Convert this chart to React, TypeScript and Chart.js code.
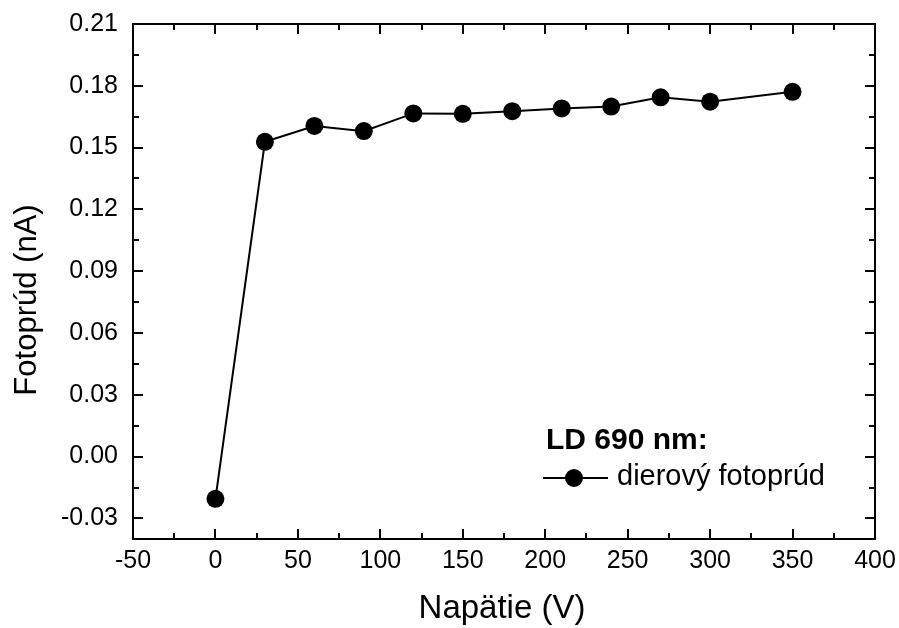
import React, { useEffect, useRef } from "react";
import { Chart, registerables } from "chart.js";

Chart.register(...registerables);

const voltages = [0, 30, 60, 90, 120, 150, 180, 210, 240, 270, 300, 350];
const photocurrent = [-0.0205, 0.1528, 0.1605, 0.158, 0.1666, 0.1664, 0.1677, 0.169, 0.1699, 0.1744, 0.1723, 0.1771];
const xTicks = [-50, 0, 50, 100, 150, 200, 250, 300, 350, 400];
const yTicks = [-0.03, 0, 0.03, 0.06, 0.09, 0.12, 0.15, 0.18, 0.21];
const xTitle = "Napätie (V)";
const yTitle = "Fotoprúd (nA)";
const legendTitle = "LD 690 nm:";
const seriesLabel = "dierový fotoprúd";

const FONT = "'Liberation Sans', Arial, sans-serif";

const framePlugin = {
  id: "framePlugin",
  afterDraw(chart: any) {
    const ctx = chart.ctx;
    const { left, right, top, bottom } = chart.chartArea;
    const xs = chart.scales.x;
    const ys = chart.scales.y;
    ctx.save();
    ctx.strokeStyle = "#000";
    ctx.lineWidth = 2;
    ctx.strokeRect(left, top, right - left, bottom - top);
    const major = 10;
    const minor = 6;
    ctx.beginPath();
    for (let i = 0; i < xTicks.length; i++) {
      const px = Math.round(xs.getPixelForValue(xTicks[i]));
      ctx.moveTo(px, bottom); ctx.lineTo(px, bottom - major);
      ctx.moveTo(px, top); ctx.lineTo(px, top + major);
      if (i < xTicks.length - 1) {
        const mx = Math.round(xs.getPixelForValue((xTicks[i] + xTicks[i + 1]) / 2));
        ctx.moveTo(mx, bottom); ctx.lineTo(mx, bottom - minor);
        ctx.moveTo(mx, top); ctx.lineTo(mx, top + minor);
      }
    }
    const yMinorVals = [-0.015, 0.015, 0.045, 0.075, 0.105, 0.135, 0.165, 0.195];
    for (const v of yTicks) {
      const py = Math.round(ys.getPixelForValue(v));
      ctx.moveTo(left, py); ctx.lineTo(left + major, py);
      ctx.moveTo(right, py); ctx.lineTo(right - major, py);
    }
    for (const v of yMinorVals) {
      const py = Math.round(ys.getPixelForValue(v));
      ctx.moveTo(left, py); ctx.lineTo(left + minor, py);
      ctx.moveTo(right, py); ctx.lineTo(right - minor, py);
    }
    ctx.stroke();

    // axis titles
    ctx.fillStyle = "#000";
    ctx.font = `33px ${FONT}`;
    ctx.textAlign = "center";
    ctx.textBaseline = "alphabetic";
    ctx.fillText(xTitle, 502, 618);
    ctx.save();
    ctx.translate(36, 300);
    ctx.rotate(-Math.PI / 2);
    ctx.font = `31px ${FONT}`;
    ctx.fillText(yTitle, 0, 0);
    ctx.restore();

    // legend
    ctx.textAlign = "left";
    ctx.font = `bold 30px ${FONT}`;
    ctx.fillText(legendTitle, 546, 449);
    ctx.lineWidth = 2;
    ctx.beginPath();
    ctx.moveTo(543, 478);
    ctx.lineTo(608, 478);
    ctx.stroke();
    ctx.beginPath();
    ctx.arc(574, 478, 9, 0, Math.PI * 2);
    ctx.fill();
    ctx.font = `29px ${FONT}`;
    ctx.fillText(seriesLabel, 617, 485);
    ctx.restore();
  },
};

const zeroPad = (s: any) => {
  s.paddingTop = 0;
  s.paddingBottom = 0;
  s.paddingLeft = 0;
  s.paddingRight = 0;
};

export default function App() {
  const ref = useRef<HTMLCanvasElement>(null);
  useEffect(() => {
    if (!ref.current) return;
    const chart = new Chart(ref.current, {
      type: "line",
      data: {
        datasets: [
          {
            label: seriesLabel,
            data: voltages.map((v, i) => ({ x: v, y: photocurrent[i] })),
            borderColor: "#000",
            backgroundColor: "#000",
            borderWidth: 2,
            pointRadius: 9,
            pointBackgroundColor: "#000",
            pointBorderColor: "#000",
            pointBorderWidth: 0,
            tension: 0,
          },
        ],
      },
      options: {
        animation: false,
        responsive: false,
        maintainAspectRatio: false,
        layout: { padding: { top: 24, right: 24, left: 0, bottom: 0 } },
        plugins: { legend: { display: false }, tooltip: { enabled: false } },
        scales: {
          x: {
            type: "linear",
            min: -50,
            max: 400,
            afterBuildTicks: (s: any) => { s.ticks = xTicks.map((v) => ({ value: v })); },
            afterFit: (s: any) => { s.height = 89; zeroPad(s); },
            grid: { display: false, drawTicks: false },
            border: { display: false },
            ticks: {
              color: "#000",
              font: { family: FONT, size: 25 },
              padding: 7,
              maxRotation: 0,
              autoSkip: false,
              callback: (v: any) => String(v),
            },
          },
          y: {
            type: "linear",
            min: -0.04,
            max: 0.21,
            afterBuildTicks: (s: any) => { s.ticks = yTicks.map((v) => ({ value: v })); },
            afterFit: (s: any) => { s.width = 133; zeroPad(s); },
            grid: { display: false, drawTicks: false },
            border: { display: false },
            ticks: {
              color: "#000",
              font: { family: FONT, size: 25 },
              padding: 15,
              autoSkip: false,
              callback: (v: any) => Number(v).toFixed(2),
            },
          },
        },
      },
      plugins: [framePlugin],
    });
    return () => chart.destroy();
  }, []);
  return (
    <div style={{ position: "fixed", left: 0, top: 0, width: 899, height: 628, background: "#fff" }}>
      <canvas ref={ref} width={899} height={628} style={{ display: "block" }} />
    </div>
  );
}
